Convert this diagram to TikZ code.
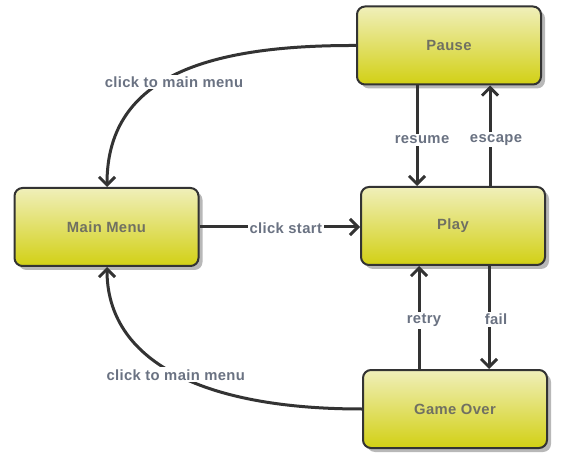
\documentclass[tikz,border=0pt]{standalone}
\usepackage{fontspec}
\setmainfont{Liberation Sans}[LetterSpace=2.5]
\usetikzlibrary{arrows.meta,shadows}
\definecolor{edgec}{HTML}{333333}
\definecolor{boxtop}{HTML}{F0EFBA}
\definecolor{boxbot}{HTML}{D2D014}
\definecolor{boxtxt}{HTML}{707062}
\definecolor{lbltxt}{HTML}{6A7282}
\tikzset{
  state/.style={draw=edgec, line width=2pt, rounded corners=8pt,
    top color=boxtop, bottom color=boxbot, minimum width=184pt, minimum height=78pt,
    font=\fontsize{14.8}{16}\selectfont\bfseries, text=boxtxt,
    drop shadow={shadow xshift=4pt, shadow yshift=-4pt, fill=black!35, opacity=0.8}},
  conn/.style={draw=edgec, line width=3pt, -{Straight Barb[length=8pt,width=16pt,line width=3pt]}},
  lbl/.style={fill=white, inner sep=2pt, text=lbltxt, font=\fontsize{14.8}{16}\selectfont\bfseries}
}
\begin{document}
\begin{tikzpicture}[x=1pt,y=-1pt]
\useasboundingbox (0,0) rectangle (578,462);
\node[state] (pause) at (449,45.5) {Pause};
\node[state] (play) at (453,226) {Play};
\node[state] (menu) at (106.5,227) {Main Menu};
\node[state] (over) at (455,409) {Game Over};
% Pause <-> Play
\draw[conn] (pause.south -| 417,0) -- node[lbl, xshift=5pt, yshift=-2pt, pos=0.52] {resume} (play.north -| 417,0);
\draw[conn] (play.north -| 490,0) -- node[lbl, xshift=6pt, yshift=-2pt, pos=0.48] {escape} (pause.south -| 490,0);
% Play <-> Game Over
\draw[conn] (play.south -| 489,0) -- node[lbl, xshift=7pt, yshift=-2pt, pos=0.5] {fail} (over.north -| 489,0);
\draw[conn] (over.north -| 419,0) -- node[lbl, xshift=5pt, yshift=-3pt, pos=0.5] {retry} (play.south -| 419,0);
% Main -> Play
\draw[conn] (menu.east) -- node[lbl, xshift=6pt, yshift=-1pt] {click start} (play.west |- menu.east);
% curves to main menu
\draw[conn] (pause.west) .. controls (200,45) and (107,80) .. node[lbl, pos=0.5, xshift=1pt, yshift=-6pt] {click to main menu} (menu.north -| 107,0);
\draw[conn] (over.west) .. controls (200,409) and (107,360) .. node[lbl, pos=0.5, xshift=2pt, yshift=-2pt] {click to main menu} (menu.south -| 107,0);
\end{tikzpicture}
\end{document}
